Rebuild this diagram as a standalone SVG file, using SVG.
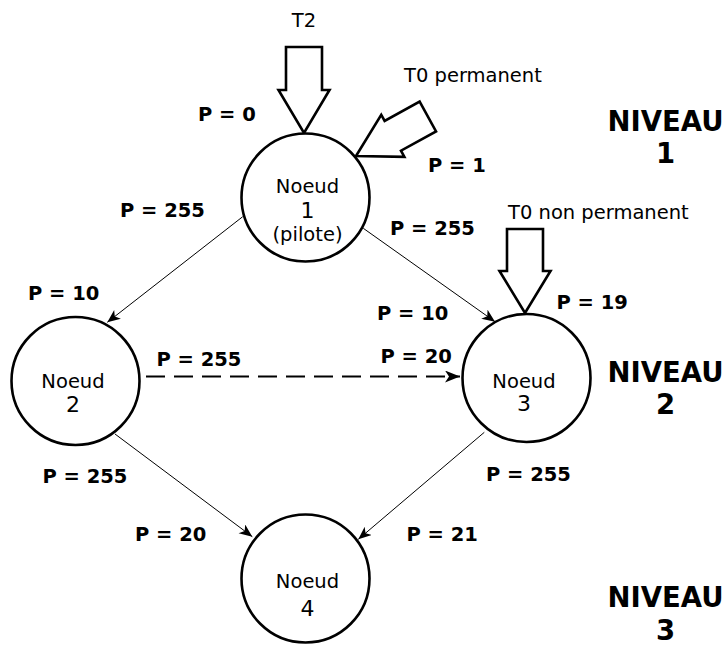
<svg xmlns="http://www.w3.org/2000/svg" width="728" height="651" viewBox="0 0 728 651">
<defs>
<style>
.node circle{fill:#fff;stroke:#000;stroke-width:2.6}
.nt{font-family:"DejaVu Sans","Liberation Sans",sans-serif;font-size:19.5px;font-weight:normal;text-anchor:middle;fill:#000}
.num{font-size:22px}
.lt{font-family:"DejaVu Sans","Liberation Sans",sans-serif;font-size:19.5px;font-weight:normal;fill:#000}
.p{font-family:"DejaVu Sans","Liberation Sans",sans-serif;font-size:19.5px;font-weight:bold;fill:#000}
.niv{font-family:"DejaVu Sans","Liberation Sans",sans-serif;font-size:27.5px;font-weight:bold;text-anchor:middle;fill:#000}
.edge{stroke:#000;stroke-width:1;fill:none;marker-end:url(#ah)}
.dash{stroke:#000;stroke-width:2;fill:none;stroke-dasharray:19 9;marker-end:url(#ah2)}
.big{fill:#fff;stroke:#000;stroke-width:2.6;stroke-linejoin:miter}
</style>
<marker id="ah" markerUnits="userSpaceOnUse" markerWidth="14" markerHeight="12" refX="13" refY="5.5" orient="auto" viewBox="0 0 14 12">
<path d="M0,0 L13,5.5 L0,11 L3.5,5.5 z" fill="#000"/>
</marker>
<marker id="ah2" markerUnits="userSpaceOnUse" markerWidth="16" markerHeight="12" refX="15" refY="6" orient="auto" viewBox="0 0 16 12">
<path d="M0,0 L15,6 L0,12 L4,6 z" fill="#000"/>
</marker>
</defs>
<rect width="728" height="651" fill="#fff"/>
<g id="connectors">
<line class="edge" x1="242.7" y1="216.7" x2="107.3" y2="322.3"/>
<line class="edge" x1="363.3" y1="228.3" x2="495" y2="321.7"/>
<line class="edge" x1="115" y1="434" x2="252.3" y2="536.7"/>
<line class="edge" x1="484.3" y1="432.3" x2="358.3" y2="539.3"/>
<line class="dash" x1="146" y1="376.5" x2="460" y2="376.5"/>
</g>
<g id="inputs">
<g id="t2">
<polygon class="big" points="286,47 322,47 322,90 329.5,90 304,133 278.5,90 286,90"/>
<text class="lt" x="304" y="27" text-anchor="middle">T2</text>
</g>
<g id="t0perm">
<polygon class="big" transform="translate(356,156) rotate(61.2)" points="-17,-82 17,-82 17,-42 24,-42 0,0 -24,-42 -17,-42"/>
<text class="lt" x="404" y="82">T0 permanent</text>
</g>
<g id="t0nonperm">
<polygon class="big" points="507,229 543,229 543,271 550.5,271 525,313 499.5,271 507,271"/>
<text class="lt" x="508" y="219">T0 non permanent</text>
</g>
</g>
<g id="node1" class="node">
<circle cx="305.5" cy="197.5" r="64"/>
<text class="nt" x="307.5" y="193.3">Noeud</text>
<text class="nt num" x="307.5" y="218.3">1</text>
<text class="nt" x="307.5" y="241">(pilote)</text>
</g>
<g id="node2" class="node">
<circle cx="75.5" cy="381" r="64"/>
<text class="nt" x="73" y="388.3">Noeud</text>
<text class="nt num" x="73" y="411.7">2</text>
</g>
<g id="node3" class="node">
<circle cx="526.5" cy="378" r="64"/>
<text class="nt" x="524" y="388.3">Noeud</text>
<text class="nt num" x="524" y="411">3</text>
</g>
<g id="node4" class="node">
<circle cx="305.5" cy="578.5" r="64"/>
<text class="nt" x="307.5" y="588.3">Noeud</text>
<text class="nt num" x="307.5" y="615.7">4</text>
</g>
<g id="labels">
<text class="p" x="198" y="120.7">P = 0</text>
<text class="p" x="428" y="171.5">P = 1</text>
<text class="p" x="120" y="216.7">P = 255</text>
<text class="p" x="390" y="235">P = 255</text>
<text class="p" x="28" y="300">P = 10</text>
<text class="p" x="377" y="320">P = 10</text>
<text class="p" x="556.5" y="309.3">P = 19</text>
<text class="p" x="156.5" y="366">P = 255</text>
<text class="p" x="380.5" y="363.3">P = 20</text>
<text class="p" x="42.5" y="483">P = 255</text>
<text class="p" x="486" y="480.7">P = 255</text>
<text class="p" x="135" y="540.7">P = 20</text>
<text class="p" x="406.5" y="540.7">P = 21</text>
</g>
<g id="levels">
<text class="niv" x="665.5" y="130.7">NIVEAU</text>
<text class="niv" x="665.5" y="163">1</text>
<text class="niv" x="665.5" y="381.7">NIVEAU</text>
<text class="niv" x="665.5" y="414.3">2</text>
<text class="niv" x="665.5" y="606.7">NIVEAU</text>
<text class="niv" x="665.5" y="640">3</text>
</g>
</svg>
